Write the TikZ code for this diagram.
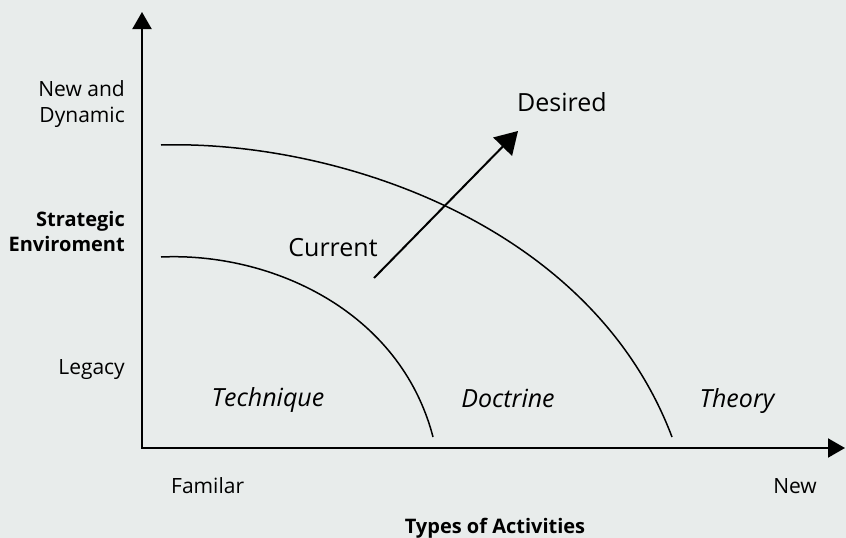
\documentclass[tikz,border=0pt]{standalone}
\usepackage{fontspec}
\setmainfont{Open Sans}
\usepackage{tikz}
\usetikzlibrary{arrows.meta}
\definecolor{fundo}{RGB}{232,236,235}

\begin{document}
\begin{tikzpicture}[x=1pt, y=-1pt,
  eixo/.style={line width=2pt, line join=miter,
    {Triangle[length=17pt,width=19pt]}-{Triangle[length=17pt,width=19pt]}},
  curva/.style={line width=1.5pt},
  seta/.style={line width=2pt, -{Triangle[length=22pt,width=26pt]}},
  rotulo/.style={font=\fontsize{21}{26}\selectfont, inner sep=0pt},
  titulo/.style={rotulo, font=\fontsize{20}{25}\selectfont\bfseries},
  estado/.style={rotulo, font=\fontsize{25}{30}\selectfont},
  regiao/.style={rotulo, font=\fontsize{25}{30}\selectfont\itshape}]

% fundo
\fill[fundo] (0,0) rectangle (846,538);
\useasboundingbox (0,0) rectangle (846,538);

% eixos
\coordinate (ytop) at (142,12);
\coordinate (O) at (142,448);
\coordinate (xend) at (845,448);
\draw[eixo] (ytop) -- (O) -- (xend);

% curvas
\coordinate (ext0) at (161,145);
\coordinate (ext1) at (672,437);
\coordinate (int0) at (161,257);
\coordinate (int1) at (433,437);
\draw[curva] (ext0) .. controls (330,140) and (590,220) .. (ext1);
\draw[curva] (int0) .. controls (270,252) and (400,310) .. (int1);

% seta
\coordinate (atual) at (374,278);
\coordinate (desejado) at (518,131);
\draw[seta] (atual) -- (desejado);

% eixo vertical
\node[rotulo, align=right, anchor=east] (novo) at (125,104) {New and\\Dynamic};
\node[titulo, align=right, anchor=east] (estrat) at (125,231) {Strategic\\Enviroment};
\node[rotulo, anchor=base east] (legado) at (125,374) {Legacy};

% eixo horizontal
\node[rotulo, anchor=base west] (familiar) at (171,493) {Familar};
\node[rotulo, anchor=base east] (novox) at (817,493) {New};
\node[titulo, anchor=base] (tipos) at (495,533) {Types of Activities};

% regioes
\node[regiao, anchor=base] (tecnica) at (268,406) {Technique};
\node[regiao, anchor=base] (doutrina) at (508,407) {Doctrine};
\node[regiao, anchor=base] (teoria) at (737,407) {Theory};

% estados
\node[estado, anchor=base] (lblatual) at (333,256) {Current};
\node[estado, anchor=base west] (lbldesej) at (517,111) {Desired};

\end{tikzpicture}
\end{document}
